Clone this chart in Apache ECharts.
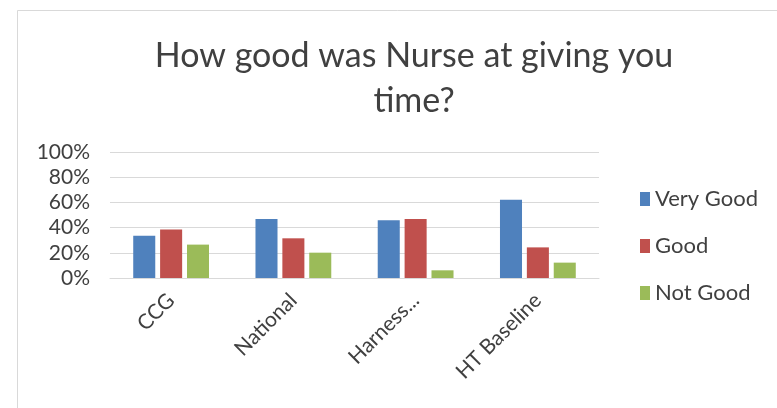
<!DOCTYPE html>
<html>
<head>
<meta charset="utf-8">
<script src="https://cdn.jsdelivr.net/npm/echarts@6/dist/echarts.min.js"></script>
<style>
  html, body { margin: 0; padding: 0; background: #fff; }
  #main { width: 777px; height: 408px; }
</style>
</head>
<body>
<div id="main"></div>
<script>
var categories = ['CCG', 'National', 'Harness...', 'HT Baseline'];
var veryGood = [33.6, 46.8, 45.8, 62.2];
var good = [38.4, 31.5, 46.8, 24.3];
var notGood = [26.5, 20.1, 6.1, 12.2];
var yTicks = [0, 20, 40, 60, 80, 100];

var chart = echarts.init(document.getElementById('main'), null, { renderer: 'canvas' });
var font = 'Lato, "Liberation Sans", sans-serif';

var option = {
  backgroundColor: '#fff',
  animation: false,
  textStyle: { fontFamily: font },
  title: {
    text: 'How good was Nurse at giving you\ntime?',
    left: 409,
    top: 29,
    textAlign: 'center',
    textStyle: { fontFamily: font, fontSize: 34, fontWeight: 'normal', color: '#404040', lineHeight: 45 }
  },
  legend: {
    orient: 'vertical',
    left: 635,
    top: 183,
    itemWidth: 10,
    itemHeight: 14,
    itemGap: 25,
    icon: 'rect',
    textStyle: { fontFamily: font, fontSize: 22, color: '#404040' },
    data: ['Very Good', 'Good', 'Not Good']
  },
  grid: { left: 110, right: 178, top: 152, bottom: 130 },
  xAxis: {
    type: 'category',
    data: categories,
    axisLine: { show: true, lineStyle: { color: '#d9d9d9', width: 1 } },
    axisTick: { show: false },
    axisLabel: { rotate: 45, margin: 19, fontSize: 21, color: '#404040', fontFamily: font }
  },
  yAxis: {
    type: 'value',
    min: yTicks[0],
    max: yTicks[yTicks.length - 1],
    interval: 20,
    axisLine: { show: false },
    axisTick: { show: false },
    axisLabel: { formatter: '{value}%', fontSize: 21, color: '#404040', margin: 20, fontFamily: font },
    splitLine: { lineStyle: { color: '#d9d9d9', width: 1 } }
  },
  series: [
    { name: 'Very Good', type: 'bar', data: veryGood, itemStyle: { color: '#4F81BD' }, barGap: '22%', barCategoryGap: '38%' },
    { name: 'Good', type: 'bar', data: good, itemStyle: { color: '#C0504D' } },
    { name: 'Not Good', type: 'bar', data: notGood, itemStyle: { color: '#9BBB59' } }
  ],
  graphic: [{
    type: 'rect',
    shape: { x: 17.5, y: 10.5, width: 800, height: 420 },
    style: { fill: 'none', stroke: '#d9d9d9', lineWidth: 1 },
    silent: true
  }]
};
chart.setOption(option);
</script>
</body>
</html>
